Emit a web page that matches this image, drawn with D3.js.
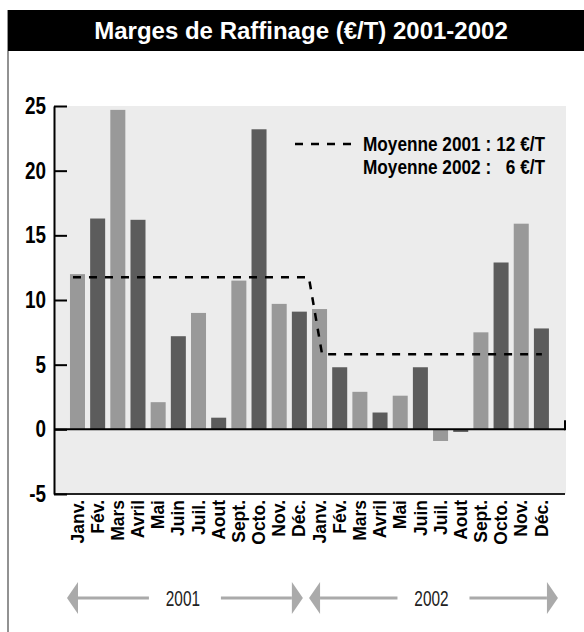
<!DOCTYPE html>
<html>
<head>
<meta charset="utf-8">
<script src="https://cdn.jsdelivr.net/npm/d3@7"></script>
<style>
  html, body { margin: 0; padding: 0; background: #fff; }
  svg { display: block; }
  text { font-family: "Liberation Sans", Arial, sans-serif; }
</style>
</head>
<body>
<svg id="chart" width="584" height="632"></svg>
<script>
// ---------------- data ----------------
const title = "Marges de Raffinage (€/T) 2001-2002";
const months = ["Janv.","Fév.","Mars","Avril","Mai","Juin","Juil.","Aout","Sept.","Octo.","Nov.","Déc."];
const years = ["2001","2002"];
const values2001 = [12.0, 16.3, 24.7, 16.2, 2.1, 7.2, 9.0, 0.9, 11.5, 23.2, 9.7, 9.1];
const values2002 = [9.3, 4.8, 2.9, 1.3, 2.6, 4.8, -0.9, -0.2, 7.5, 12.9, 15.9, 7.8];
const averages = [11.75, 5.8];
const yTicks = [-5, 0, 5, 10, 15, 20, 25];
const legendLeft = ["Moyenne 2001 :", "Moyenne 2002 :"];
const legendRight = ["12 €/T", "6 €/T"];

// ---------------- build ----------------
const NARROW = 0.82; // emulate a condensed face
const rows = [];
values2001.forEach((v, i) => rows.push({ key: "2001-" + i, month: months[i], value: v, year: 0 }));
values2002.forEach((v, i) => rows.push({ key: "2002-" + i, month: months[i], value: v, year: 1 }));

const svg = d3.select("#chart");
const W = 584, H = 632;

const plotLeft = 54, plotRight = 566, plotTop = 106, plotBottom = 494;

const y = d3.scaleLinear().domain([-5, 25]).range([plotBottom, plotTop]);
const x = d3.scaleBand().domain(rows.map(d => d.key))
  .range([67.4, 551.5]).paddingInner(0.256).paddingOuter(0.128);
const bw = x.bandwidth();

function narrowText(sel, tx, ty, txt, anchor, sx) {
  return sel.append("text")
    .attr("transform", `translate(${tx},${ty}) scale(${sx || NARROW},1)`)
    .attr("text-anchor", anchor || "start")
    .text(txt);
}

// left border
svg.append("line").attr("x1", 8).attr("x2", 8).attr("y1", 10).attr("y2", H)
  .attr("stroke", "#6e6e6e").attr("stroke-width", 1.5);

// title bar
svg.append("rect").attr("x", 8).attr("y", 10).attr("width", W - 8).attr("height", 41).attr("fill", "#000");
svg.append("text").attr("x", 301).attr("y", 39).attr("text-anchor", "middle")
  .attr("fill", "#fff").attr("font-weight", "bold").attr("font-size", 24).text(title);

// plot background
svg.append("rect").attr("x", plotLeft).attr("y", plotTop)
  .attr("width", plotRight - plotLeft).attr("height", plotBottom - plotTop).attr("fill", "#ececec");

// bars
svg.append("g").selectAll("rect").data(rows).join("rect")
  .attr("x", d => x(d.key))
  .attr("width", bw)
  .attr("y", d => y(Math.max(0, d.value)))
  .attr("height", d => Math.abs(y(d.value) - y(0)))
  .attr("fill", (d, i) => i % 2 === 0 ? "#999999" : "#5c5c5c");

// average line
const k0 = rows[0].key, k11 = rows[11].key, k12 = rows[12].key, k23 = rows[23].key;
const avgPts = [
  [x(k0) + 3, y(averages[0])],
  [x(k11) + bw + 2, y(averages[0])],
  [x(k12) + bw * 0.67, y(averages[1])],
  [x(k23) + bw * 0.53, y(averages[1])]
];
svg.append("path").attr("d", d3.line()(avgPts)).attr("fill", "none")
  .attr("stroke", "#000").attr("stroke-width", 2.5).attr("stroke-dasharray", "8,8");

// zero line
svg.append("line").attr("x1", plotLeft).attr("x2", plotRight - 1)
  .attr("y1", y(0)).attr("y2", y(0)).attr("stroke", "#000").attr("stroke-width", 2);
svg.append("line").attr("x1", plotRight - 1).attr("x2", plotRight - 1)
  .attr("y1", y(0) + 1).attr("y2", y(0) - 9).attr("stroke", "#000").attr("stroke-width", 2);
// bottom line
svg.append("line").attr("x1", plotLeft).attr("x2", plotRight - 1)
  .attr("y1", y(-5)).attr("y2", y(-5)).attr("stroke", "#222").attr("stroke-width", 2);

// y axis
const yAxis = svg.append("g").attr("transform", `translate(${plotLeft},0)`)
  .call(d3.axisLeft(y).tickValues(yTicks).tickSize(-13).tickSizeOuter(0).tickPadding(8).tickFormat(d => String(d)));
yAxis.select(".domain").attr("stroke", "#000").attr("stroke-width", 2);
yAxis.selectAll(".tick line").attr("stroke", "#000").attr("stroke-width", 2);
yAxis.selectAll(".tick text")
  .attr("x", -8 / NARROW)
  .attr("transform", `scale(${NARROW},1)`)
  .attr("font-family", "'Liberation Sans', Arial, sans-serif")
  .attr("font-size", 23).attr("font-weight", "bold").attr("fill", "#000");

// x axis labels
const xAxis = svg.append("g").attr("transform", `translate(0,${y(-5) + 6})`)
  .call(d3.axisBottom(x).tickSize(0).tickPadding(0).tickFormat(k => rows.find(r => r.key === k).month));
xAxis.select(".domain").remove();
xAxis.selectAll(".tick text")
  .attr("transform", "rotate(-90)")
  .attr("text-anchor", "end")
  .attr("x", 0).attr("y", 0).attr("dy", "0.35em")
  .attr("font-family", "'Liberation Sans', Arial, sans-serif")
  .attr("font-size", 17.5).attr("font-weight", "bold").attr("fill", "#000");

// legend
svg.append("line").attr("x1", 295).attr("x2", 352).attr("y1", 144).attr("y2", 144)
  .attr("stroke", "#000").attr("stroke-width", 2.5).attr("stroke-dasharray", "8,8");
const lg = svg.append("g").attr("font-size", 21).attr("font-weight", "bold").attr("fill", "#000");
legendLeft.forEach((t, i) => {
  narrowText(lg, 363, 151 + i * 23, t, "start");
  narrowText(lg, 545, 151 + i * 23, legendRight[i], "end");
});

// year arrows
const arrowY = 598, headLen = 11, headHalf = 16, gap = 36;
const spans = [
  [x(k0) - 3, x(k11) + bw - 4],
  [x(k12) - 3, x(k23) + bw + 9]
];
const ag = svg.append("g");
spans.forEach((s, i) => {
  const [a, b] = s, mid = (a + b) / 2;
  ag.append("line").attr("x1", a + headLen).attr("x2", mid - gap).attr("y1", arrowY).attr("y2", arrowY)
    .attr("stroke", "#aaaaaa").attr("stroke-width", 3);
  ag.append("line").attr("x1", mid + gap).attr("x2", b - headLen).attr("y1", arrowY).attr("y2", arrowY)
    .attr("stroke", "#aaaaaa").attr("stroke-width", 3);
  ag.append("path").attr("d", `M${a},${arrowY} L${a + headLen},${arrowY - headHalf} L${a + headLen},${arrowY + headHalf} Z`)
    .attr("fill", "#aaaaaa");
  ag.append("path").attr("d", `M${b},${arrowY} L${b - headLen},${arrowY - headHalf} L${b - headLen},${arrowY + headHalf} Z`)
    .attr("fill", "#aaaaaa");
  narrowText(ag, mid - 2, arrowY + 8, years[i], "middle", 0.7)
    .attr("font-size", 22).attr("fill", "#222");
});
</script>
</body>
</html>
